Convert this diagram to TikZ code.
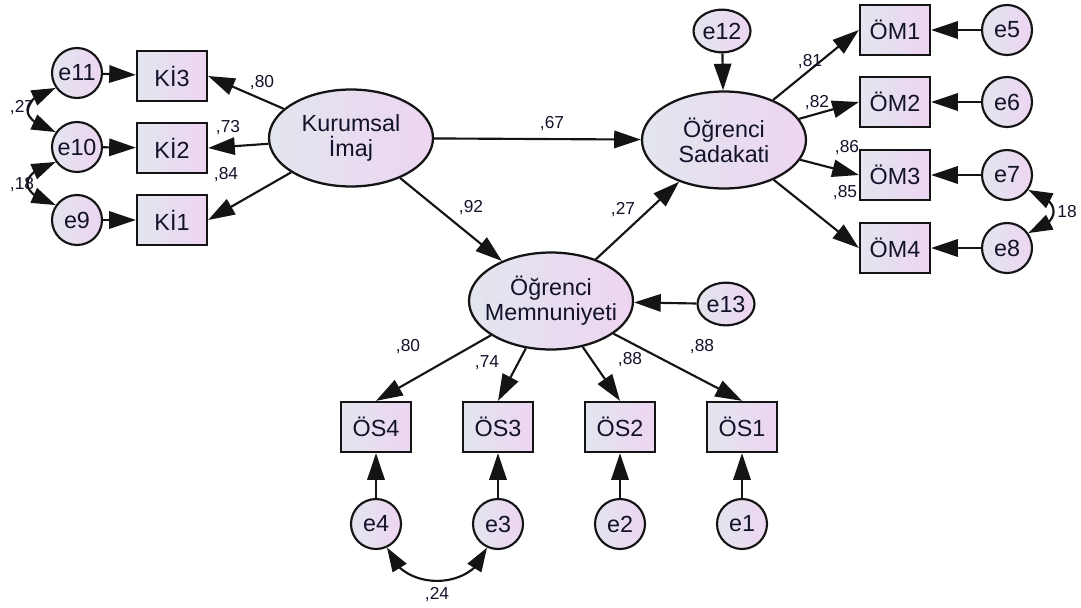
\documentclass[tikz,border=0pt]{standalone}
\usepackage{fontspec}
\setmainfont{Liberation Sans}
\usetikzlibrary{arrows.meta,bending,shapes.geometric}
\definecolor{fa}{RGB}{226,229,238}
\definecolor{fb}{RGB}{237,213,241}
\definecolor{txt}{RGB}{18,18,42}
\definecolor{ln}{RGB}{20,20,20}
\begin{document}
\begin{tikzpicture}[x=0.75pt,y=-0.75pt,
  nfont/.style={font=\fontsize{17.5}{18.75}\selectfont, text=txt},
  obs/.style={rectangle, draw=ln, line width=1.7pt, left color=fa, right color=fb,
    minimum width=52.5pt, minimum height=37.5pt, inner sep=0pt, nfont},
  err/.style={circle, draw=ln, line width=1.6pt, left color=fa, right color=fb,
    minimum size=37.5pt, inner sep=0pt, nfont},
  errel/.style={ellipse, draw=ln, line width=1.6pt, left color=fa, right color=fb,
    minimum width=42.75pt, minimum height=32pt, inner sep=0pt, nfont},
  lat/.style={ellipse, draw=ln, line width=1.7pt, left color=fa, right color=fb,
    minimum width=123pt, minimum height=72.75pt, inner sep=0pt},
  lattext/.style={nfont, align=center, inner sep=0pt},
  lbl/.style={font=\fontsize{13}{15}\selectfont, text=txt, inner sep=0pt},
  arr/.style={draw=ln, line width=1.6pt, -{Triangle[length=20pt,width=13pt]}},
  cov/.style={draw=ln, line width=1.6pt, {Triangle[length=18pt,width=12pt]}-{Triangle[length=18pt,width=12pt]}}
]
\useasboundingbox (0,0) rectangle (1081,607);

% latent variables
\node[lat, label={[lattext]center:{Kurumsal\\İmaj}}] (ki) at (351,138) {};
\node[lat, label={[lattext]center:{Öğrenci\\Sadakati}}] (sad) at (724,140) {};
\node[lat, label={[lattext]center:{Öğrenci\\Memnuniyeti}}] (mem) at (551,301) {};

% Kurumsal Imaj indicators
\node[obs] (k3) at (172,76) {Kİ3};
\node[obs] (k2) at (172,148) {Kİ2};
\node[obs] (k1) at (172,220) {Kİ1};
\node[err] (e11) at (77,73) {e11};
\node[err] (e10) at (77,147) {e10};
\node[err] (e9) at (77,220) {e9};

% Sadakati indicators
\node[obs] (om1) at (895,30) {ÖM1};
\node[obs] (om2) at (895,102) {ÖM2};
\node[obs] (om3) at (895,175) {ÖM3};
\node[obs] (om4) at (895,248) {ÖM4};
\node[err] (e5) at (1007,30) {e5};
\node[err] (e6) at (1007,102) {e6};
\node[err] (e7) at (1007,175) {e7};
\node[err] (e8) at (1007,248) {e8};
\node[errel] (e12) at (722,31) {e12};

% Memnuniyet indicators
\node[obs] (os4) at (376,427) {ÖS4};
\node[obs] (os3) at (498,427) {ÖS3};
\node[obs] (os2) at (620,427) {ÖS2};
\node[obs] (os1) at (742,427) {ÖS1};
\node[err] (e4) at (376,524) {e4};
\node[err] (e3) at (498,524) {e3};
\node[err] (e2) at (620,524) {e2};
\node[err] (e1) at (742,524) {e1};
\node[errel] (e13) at (726,304) {e13};

% structural paths
\draw[arr] (ki) -- (sad);
\draw[arr] (ki) -- (mem);
\draw[arr] (mem) -- (sad);
\draw[arr] (e12) -- (sad);
\draw[arr] (e13) -- (mem);

% loadings
\draw[arr] (ki) -- (k3.east);
\draw[arr] (ki) -- (k2.east);
\draw[arr] (ki) -- (k1.east);
\draw[arr] (e11) -- (k3);
\draw[arr] (e10) -- (k2);
\draw[arr] (e9) -- (k1);

\draw[arr] (sad) -- (om1.west);
\draw[arr] (sad) -- (om2.west);
\draw[arr] (sad) -- (om3.west);
\draw[arr] (sad) -- (om4.west);
\draw[arr] (e5) -- (om1);
\draw[arr] (e6) -- (om2);
\draw[arr] (e7) -- (om3);
\draw[arr] (e8) -- (om4);

\draw[arr] (mem) -- (os4.north);
\draw[arr] (mem) -- (os3.north);
\draw[arr] (mem) -- (os2.north);
\draw[arr] (mem) -- (os1.north);
\draw[arr] (e4) -- (os4);
\draw[arr] (e3) -- (os3);
\draw[arr] (e2) -- (os2);
\draw[arr] (e1) -- (os1);

% covariances
\draw[cov] (e11.215) .. controls (18,100) and (18,120) .. (e10.145);
\draw[cov] (e10.215) .. controls (18,173) and (18,194) .. (e9.145);
\draw[cov] (e7.-35) .. controls (1062,200) and (1062,223) .. (e8.35);
\draw[cov] (e4.-65) .. controls (400,592) and (474,592) .. (e3.245);

% labels
\node[lbl] (l80a) at (262,83) {,80};
\node[lbl] (l73) at (228,128) {,73};
\node[lbl] (l84) at (226,175) {,84};
\node[lbl] (l27a) at (22,108) {,27};
\node[lbl] (l18a) at (22,185) {,18};
\node[lbl] (l67) at (552,124) {,67};
\node[lbl] (l92) at (471,208) {,92};
\node[lbl] (l27b) at (623,210) {,27};
\node[lbl] (l81) at (810,62) {,81};
\node[lbl] (l82) at (817,103) {,82};
\node[lbl] (l86) at (847,148) {,86};
\node[lbl] (l85) at (845,193) {,85};
\node[lbl] (l18b) at (1067,212) {18};
\node[lbl] (l80b) at (408,347) {,80};
\node[lbl] (l74) at (487,363) {,74};
\node[lbl] (l88a) at (630,360) {,88};
\node[lbl] (l88b) at (702,347) {,88};
\node[lbl] (l24) at (437,595) {,24};
\end{tikzpicture}
\end{document}
